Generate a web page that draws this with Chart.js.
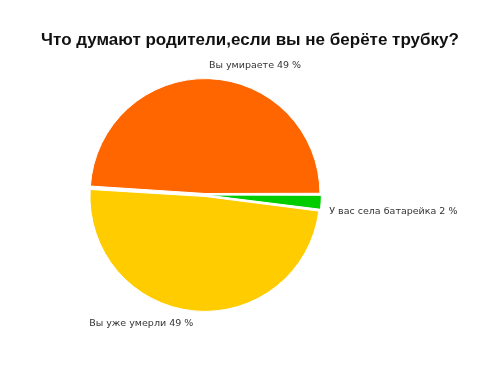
<!DOCTYPE html>
<html>
<head>
<meta charset="utf-8">
<script src="https://cdn.jsdelivr.net/npm/chart.js@4/dist/chart.umd.min.js"></script>
<style>
  html, body { margin: 0; padding: 0; background: #fff; }
  #wrap { width: 500px; height: 380px; }
</style>
</head>
<body>
<div id="wrap"><canvas id="pieChart" width="500" height="380"></canvas></div>
<script>
// data, in clockwise order starting at 3 o'clock
const chartTitle = 'Что думают родители,если вы не берёте трубку?';
const sliceLabels = ['У вас села батарейка', 'Вы уже умерли', 'Вы умираете'];
const sliceValues = [2, 49, 49];
const sliceColors = ['#00CC00', '#FFCC00', '#FF6600'];

// draws the title and the outside slice labels
const outsideLabels = {
  id: 'outsideLabels',
  afterDraw(chart) {
    const ctx = chart.ctx;
    ctx.save();
    ctx.fillStyle = '#111';
    ctx.font = 'bold 17px "Liberation Sans", Arial, sans-serif';
    ctx.textAlign = 'center';
    ctx.textBaseline = 'middle';
    ctx.fillText(chartTitle, chart.width / 2, 40);

    ctx.font = '9.5px "DejaVu Sans", Verdana, sans-serif';
    ctx.fillStyle = '#333';
    const meta = chart.getDatasetMeta(0);
    meta.data.forEach((arc, i) => {
      const p = arc.getProps(['x', 'y', 'startAngle', 'endAngle', 'outerRadius'], true);
      const mid = (p.startAngle + p.endAngle) / 2;
      const r = p.outerRadius + 11;
      const ax = p.x + Math.cos(mid) * r;
      const ay = p.y + Math.sin(mid) * r;
      ctx.textAlign = Math.cos(mid) >= 0 ? 'left' : 'right';
      ctx.textBaseline = Math.sin(mid) >= 0 ? 'top' : 'bottom';
      ctx.fillText(sliceLabels[i] + ' ' + sliceValues[i] + ' %', ax, ay + (Math.abs(Math.sin(mid)) < 0.3 ? 4 : 0));
    });
    ctx.restore();
  }
};

new Chart(document.getElementById('pieChart').getContext('2d'), {
  type: 'pie',
  data: {
    labels: sliceLabels,
    datasets: [{
      data: sliceValues,
      backgroundColor: sliceColors,
      borderColor: '#fff',
      borderWidth: 1,
      offset: 6
    }]
  },
  options: {
    responsive: false,
    animation: false,
    rotation: 90,
    layout: { padding: { top: 78, bottom: 68, left: 60, right: 150 } },
    plugins: {
      legend: { display: false },
      tooltip: { enabled: false },
      title: { display: false }
    }
  },
  plugins: [outsideLabels]
});
</script>
</body>
</html>
